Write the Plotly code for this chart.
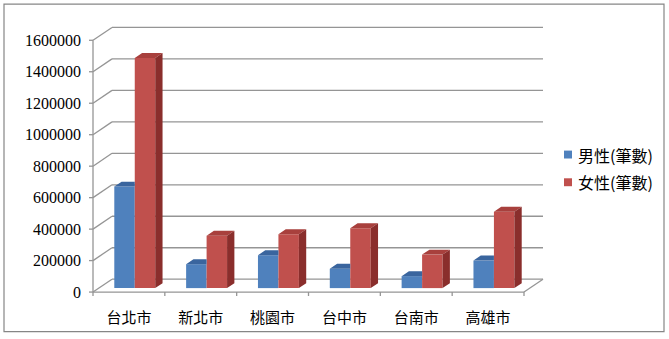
import plotly.graph_objects as go

# ---------------- data ----------------
categories = ["台北市", "新北市", "桃園市", "台中市", "台南市", "高雄市"]
male = [645000, 152000, 209000, 123000, 76000, 175000]
female = [1462000, 333000, 342000, 380000, 213000, 485000]
series_names = ["男性(筆數)", "女性(筆數)"]
y_ticks = [0, 200000, 400000, 600000, 800000, 1000000, 1200000, 1400000, 1600000]

# ---------------- layout geometry (pixels) ----------------
W, H = 669, 339
PL, PT, PR, PB = 85, 20, 552, 301          # plot area edges
AX_X0 = 93                                   # front-left axis pixel
AX_Y0 = 295                                  # front floor line pixel
AX_Y_TOP = 40.5                              # pixel of top tick on front axis
CAT_PX = 431 / 6                             # pixels per category
Y_PX = (AX_Y0 - AX_Y_TOP) / y_ticks[-1]      # pixels per unit value
FLOOR_DX, FLOOR_DY = 19, 13                  # full depth offset (px)
BAR_FRONT = 4 / 13                           # depth fraction of bar front plane
BAR_DEPTH = 5 / 13                           # depth fraction of bar thickness
BARGAP = 0.43
TICK_LEN = 4

ncat = len(categories)
xr0 = -0.5 - (AX_X0 - PL) / CAT_PX
xr1 = -0.5 + (PR - AX_X0) / CAT_PX
yr0 = -(PB - AX_Y0) / Y_PX
yr1 = (AX_Y0 - PT) / Y_PX

fdx = FLOOR_DX / CAT_PX
fdy = FLOOR_DY / Y_PX
bdx, bdy = BAR_FRONT * fdx, BAR_FRONT * fdy
ddx, ddy = BAR_DEPTH * fdx, BAR_DEPTH * fdy
bw = (1 - BARGAP) / 2
tick_x = TICK_LEN / CAT_PX
tick_y = TICK_LEN / Y_PX

BLUE, BLUE_TOP = "#4F81BD", "#3A659E"
RED, RED_TOP, RED_SIDE = "#C0504D", "#A8403D", "#8A2E2C"
GRID = "#959595"
colors = [BLUE, RED]

fig = go.Figure()

xs = [i + bdx for i in range(ncat)]
for vals, name, col in zip([male, female], series_names, colors):
    fig.add_trace(go.Bar(x=xs, y=vals, base=[bdy] * ncat, name=name,
                         marker=dict(color=col, line=dict(width=0)),
                         showlegend=False))

# 3D faces
def poly_trace(polys, color):
    px, py = [], []
    for p in polys:
        for (a, b) in p + [p[0]]:
            px.append(a)
            py.append(b)
        px.append(None)
        py.append(None)
    return go.Scatter(x=px, y=py, mode="lines", fill="toself", fillcolor=color,
                      line=dict(width=0, color=color), showlegend=False,
                      hoverinfo="skip")

blue_tops, red_tops, red_sides = [], [], []
for i in range(ncat):
    c = i + bdx
    x0, x1 = c - bw, c
    t = bdy + male[i]
    blue_tops.append([(x0, t), (x0 + ddx, t + ddy), (x1, t + ddy), (x1, t)])
    x0, x1 = c, c + bw
    t = bdy + female[i]
    red_tops.append([(x0, t), (x0 + ddx, t + ddy), (x1 + ddx, t + ddy), (x1, t)])
    red_sides.append([(x1, bdy), (x1 + ddx, bdy + ddy), (x1 + ddx, t + ddy), (x1, t)])

fig.add_trace(poly_trace(blue_tops, BLUE_TOP))
fig.add_trace(poly_trace(red_tops, RED_TOP))
fig.add_trace(poly_trace(red_sides, RED_SIDE))

# walls, floor, ticks
shapes = []
def line(x0, y0, x1, y1, color=GRID, w=1.3):
    shapes.append(dict(type="line", xref="x", yref="y", x0=x0, y0=y0, x1=x1, y1=y1,
                       line=dict(color=color, width=w), layer="below"))

left, right = -0.5, ncat - 0.5
for v in y_ticks:
    line(left + fdx, v + fdy, right + fdx, v + fdy)
    line(left, v, left + fdx, v + fdy)
    line(left - tick_x, v, left, v)
line(left, 0, left, y_ticks[-1])
line(left, 0, right, 0)
line(right, 0, right + fdx, fdy)
for k in range(ncat + 1):
    line(left + k, 0, left + k, -tick_y)

def px2paper_x(p):
    return (p - PL) / (PR - PL)
def px2paper_y(p):
    return (PB - p) / (PB - PT)

shapes.append(dict(type="rect", xref="paper", yref="paper",
                   x0=px2paper_x(4), x1=px2paper_x(664),
                   y0=px2paper_y(335), y1=px2paper_y(4),
                   line=dict(color="#868686", width=1.2), layer="below"))

# legend (marker squares + text)
LEG_X, LEG_Y0, LEG_DY, LEG_SQ = 564, 156, 28, 8
annotations = []
for k, (name, col) in enumerate(zip(series_names, colors)):
    cy = LEG_Y0 + k * LEG_DY
    shapes.append(dict(type="rect", xref="paper", yref="paper",
                       x0=px2paper_x(LEG_X), x1=px2paper_x(LEG_X + LEG_SQ),
                       y0=px2paper_y(cy + LEG_SQ / 2), y1=px2paper_y(cy - LEG_SQ / 2),
                       fillcolor=col, line=dict(width=0)))
    annotations.append(dict(xref="paper", yref="paper", x=px2paper_x(576),
                            y=px2paper_y(cy), xanchor="left", yanchor="middle",
                            text=name, showarrow=False,
                            font=dict(family="Noto Sans CJK TC", size=16, color="#000")))

fig.update_layout(
    width=W, height=H, autosize=False,
    margin=dict(l=PL, t=PT, r=W - PR, b=H - PB, pad=0),
    paper_bgcolor="white", plot_bgcolor="rgba(0,0,0,0)",
    barmode="group", bargap=BARGAP, bargroupgap=0,
    shapes=shapes, annotations=annotations,
    showlegend=False,
    font=dict(family="Liberation Serif", color="#000"),
)
fig.update_xaxes(range=[xr0, xr1], tickmode="array", tickvals=list(range(ncat)),
                 ticktext=categories, ticks="", showgrid=False, zeroline=False,
                 showline=False, ticklabelstandoff=9,
                 tickfont=dict(family="Noto Sans CJK TC", size=15, color="#000"))
fig.update_yaxes(range=[yr0, yr1], tickmode="array", tickvals=y_ticks,
                 ticktext=[str(v) for v in y_ticks], ticks="", showgrid=False,
                 zeroline=False, showline=False, ticklabelstandoff=3,
                 tickfont=dict(family="Liberation Serif", size=16, color="#000"))

fig.write_html("out.html")
